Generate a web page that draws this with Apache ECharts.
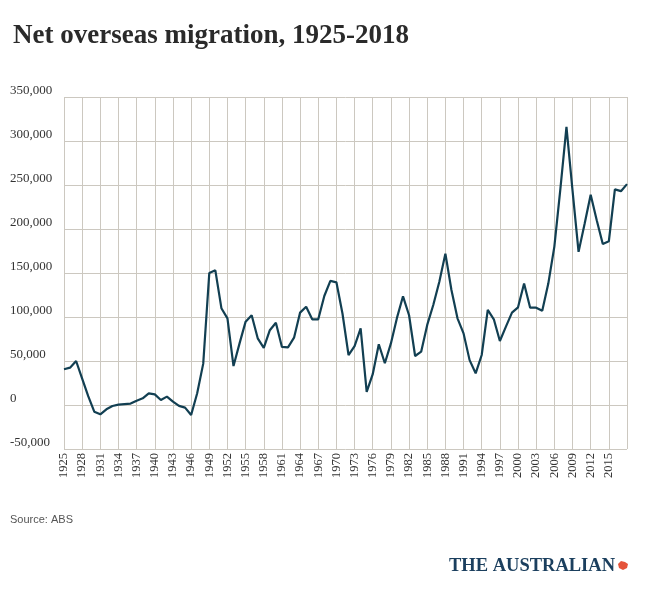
<!DOCTYPE html>
<html>
<head>
<meta charset="utf-8">
<script src="https://cdn.jsdelivr.net/npm/echarts@6/dist/echarts.min.js"></script>
<style>
html,body{margin:0;padding:0;background:#fff;}
#c{width:655px;height:596px;}
</style>
</head>
<body>
<div id="c"></div>
<script>
const years = [];
for (let y = 1925; y <= 2018; y++) years.push(String(y));

const migration = [
  40600, 42400, 50000, 30000, 10000, -7600, -10600, -4900, -1100, 500,
  1100, 1600, 4900, 7600, 13300, 12100, 5700, 9500, 3800, -1000,
  -3000, -11400, 13300, 47000, 150000, 153000, 110000, 98500, 44300, 70000,
  94700, 102000, 75800, 65000, 85000, 93500, 66000, 65500, 76500, 105000,
  111700, 97400, 97400, 123900, 141000, 139400, 104000, 56800, 67000, 87000,
  15000, 35000, 69000, 47400, 70000, 99000, 123500, 102000, 55700, 60600,
  91000, 113600, 140000, 172000, 130700, 98500, 81400, 51000, 36000, 56800,
  108000, 97400, 72700, 89000, 105000, 111000, 138000, 110600, 110600, 107000,
  138000, 180000, 246000, 316000, 244000, 174000, 206000, 239000, 210000, 183000,
  186000, 245000, 243000, 251000
];

const yTicks = { min: -50000, max: 350000, step: 50000 };

const chart = echarts.init(document.getElementById('c'));
chart.setOption({
  backgroundColor: '#fff',
  animation: false,
  title: {
    text: 'Net overseas migration, 1925-2018',
    left: 8,
    top: 18,
    textStyle: {
      fontFamily: 'Liberation Serif',
      fontWeight: 'bold',
      fontSize: 27,
      color: '#2a2a2a'
    }
  },
  grid: { left: 64, right: 28, top: 97, bottom: 147 },
  xAxis: {
    type: 'category',
    data: years,
    boundaryGap: false,
    axisLine: { show: false },
    axisTick: { show: false },
    axisLabel: {
      rotate: 90,
      margin: 4,
      interval: function (i) { return i % 3 === 0 && i < years.length - 1; },
      fontFamily: 'Liberation Serif',
      fontSize: 12.5,
      color: '#333'
    },
    splitLine: {
      show: true,
      interval: function (i) { return i % 3 === 0; },
      lineStyle: { color: '#ccc8c0', width: 1 }
    }
  },
  yAxis: {
    type: 'value',
    min: yTicks.min,
    max: yTicks.max,
    interval: yTicks.step,
    axisLine: { show: false },
    axisTick: { show: false },
    axisLabel: {
      align: 'left',
      verticalAlign: 'bottom',
      margin: 54,
      fontFamily: 'Liberation Serif',
      fontSize: 13,
      color: '#333',
      formatter: function (v) { return v.toLocaleString('en-US'); }
    },
    splitLine: { show: true, lineStyle: { color: '#ccc8c0', width: 1 } }
  },
  series: [{
    type: 'line',
    data: migration,
    showSymbol: false,
    lineStyle: { color: '#123f52', width: 2.2 },
    itemStyle: { color: '#123f52' }
  }],
  graphic: [
    {
      type: 'text',
      left: 10,
      top: 514,
      style: { text: 'Source: ABS', fill: '#555', font: '11px "Liberation Sans", Arial, sans-serif' }
    },
    {
      type: 'text',
      left: 449,
      top: 557,
      style: { text: 'THE AUSTRALIAN', fill: '#1b3f5e', font: 'bold 18.5px "Liberation Serif", serif' }
    },
    {
      type: 'polygon',
      shape: { points: [[618,564],[621,561],[625,562],[628,564],[627,568],[623,570],[619,568]] },
      style: { fill: '#e5533a' }
    }
  ]
});
</script>
</body>
</html>
